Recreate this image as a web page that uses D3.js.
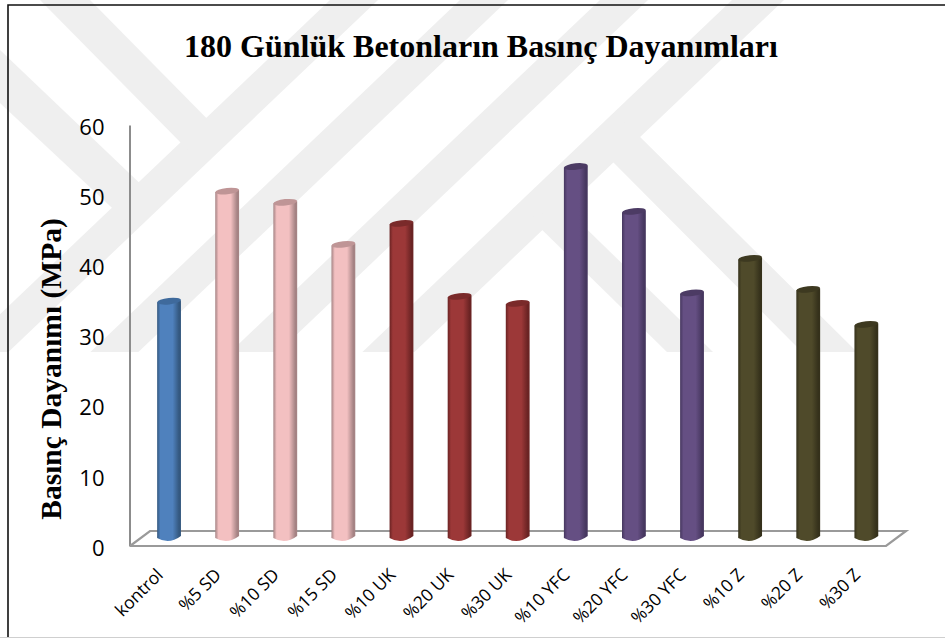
<!DOCTYPE html>
<html><head><meta charset="utf-8">
<style>html,body{margin:0;padding:0;background:#fff;overflow:hidden}svg{display:block}</style>
<script src="https://cdn.jsdelivr.net/npm/d3@7/dist/d3.min.js"></script>
</head><body><svg id="c" width="945" height="638"></svg>
<script>
const categories=["kontrol","%5 SD","%10 SD","%15 SD","%10 UK","%20 UK","%30 UK","%10 YFC","%20 YFC","%30 YFC","%10 Z","%20 Z","%30 Z"];
const values=[33.6,49.3,47.7,41.7,44.7,34.3,33.3,52.8,46.4,34.8,39.7,35.3,30.3];
const groups=["blue","pink","pink","pink","red","red","red","purple","purple","purple","olive","olive","olive"];
const yTicks=[0,10,20,30,40,50,60];
const titleText="180 Günlük Betonların Basınç Dayanımları";
const yTitle="Basınç Dayanımı (MPa)";
const palette={
  blue:{c:"#4f81bd",e:"#34587f",t:"#3f6a9c"},
  pink:{c:"#f3c0c1",e:"#a58384",t:"#bf9596"},
  red:{c:"#9c3838",e:"#6a2323",t:"#7a2a2a"},
  purple:{c:"#654f83",e:"#46375f",t:"#4c3b64"},
  olive:{c:"#4f4a2a",e:"#35311b",t:"#3d3920"}};
const watermark=[
  [[330,0],[378,0],[8.4,352],[-39.6,352]],
  [[460,0],[508,0],[138.4,352],[90.4,352]],
  [[600,0],[648,0],[278.4,352],[230.4,352]],
  [[732,0],[784,0],[414.4,352],[362.4,352]],
  [[40,0],[90,0],[225,137],[190,152]],
  [[0,50],[150,193],[125,220],[0,103]],
  [[667,352],[713,352],[564,207],[530,218]],
  [[625,122],[857,352],[802,352],[600,149]]];

const svg=d3.select("#c");
const defs=svg.append("defs");
Object.entries(palette).forEach(([k,p])=>{
  const g=defs.append("linearGradient").attr("id","g-"+k).attr("x1","0").attr("x2","1").attr("y1","0").attr("y2","0");
  [[0,p.e],[.14,p.c],[.65,p.c],[.92,p.e],[1,p.e]].forEach(s=>g.append("stop").attr("offset",s[0]).attr("stop-color",s[1]));
});

// watermark
svg.append("g").selectAll("path").data(watermark).join("path")
  .attr("d",d=>d3.line()(d)+"Z").attr("fill","#efefef");

// frame
svg.append("path").attr("d","M8,638V5H945").attr("fill","none").attr("stroke","#111").attr("stroke-width",1.6);
svg.append("line").attr("x1",0).attr("x2",945).attr("y1",637.5).attr("y2",637.5).attr("stroke","#cfcfcf");

// scales
const x=d3.scaleBand().domain(categories).range([140,895.4]).paddingInner(0.59).paddingOuter(0.295);
const yAxis=d3.scaleLinear().domain([0,60]).range([546,125]);
const y=d3.scaleLinear().domain([0,60]).range([537,116]);

// axis
const ax=svg.append("g").attr("transform","translate(129.5,0)").call(d3.axisLeft(yAxis).tickValues(yTicks).tickSize(0).tickPadding(25));
ax.select(".domain").attr("stroke","#8c8c8c").attr("stroke-width",2);
ax.selectAll("text").attr("font-family","Open Sans").attr("font-size",22).attr("fill","#000").attr("dy","0.42em");

// floor
const floor=[[130,546],[886,546],[906,531],[150,531],[130,546]];
svg.append("path").attr("d",d3.line()(floor)).attr("fill","none").attr("stroke","#9a9a9a").attr("stroke-width",2.2);

// bars
const rx=x.bandwidth()/2, ry=3.2, tilt=-6;
const bars=svg.append("g").selectAll("g").data(categories).join("g")
  .attr("transform",d=>`translate(${x(d)+rx},0)`);
bars.append("path").attr("d",(d,i)=>{
  const t=y(values[i]), b=y(0);
  return `M${-rx},${t+1}L${-rx},${b+1}Q0,${b+2.5*ry} ${rx},${b-1}L${rx},${t-1}Z`;
}).attr("fill",(d,i)=>`url(#g-${groups[i]})`);
bars.append("ellipse").attr("rx",rx).attr("ry",ry)
  .attr("transform",(d,i)=>`translate(0,${y(values[i])}) rotate(${tilt})`)
  .attr("fill",(d,i)=>palette[groups[i]].t);

// category labels
svg.append("g").selectAll("text").data(categories).join("text")
  .attr("transform",d=>`translate(${x(d)+rx-5},576) rotate(-45)`)
  .attr("text-anchor","end").attr("font-family","Open Sans").attr("font-size",17.5).attr("fill","#000").text(d=>d);

// titles
svg.append("text").attr("x",481).attr("y",57).attr("text-anchor","middle")
  .attr("font-family","Liberation Serif").attr("font-weight","bold").attr("font-size",32).attr("fill","#000").text(titleText);
svg.append("text").attr("transform","translate(61,369) rotate(-90)").attr("text-anchor","middle")
  .attr("font-family","Liberation Serif").attr("font-weight","bold").attr("font-size",29.5).attr("fill","#000").text(yTitle);
</script></body></html>
